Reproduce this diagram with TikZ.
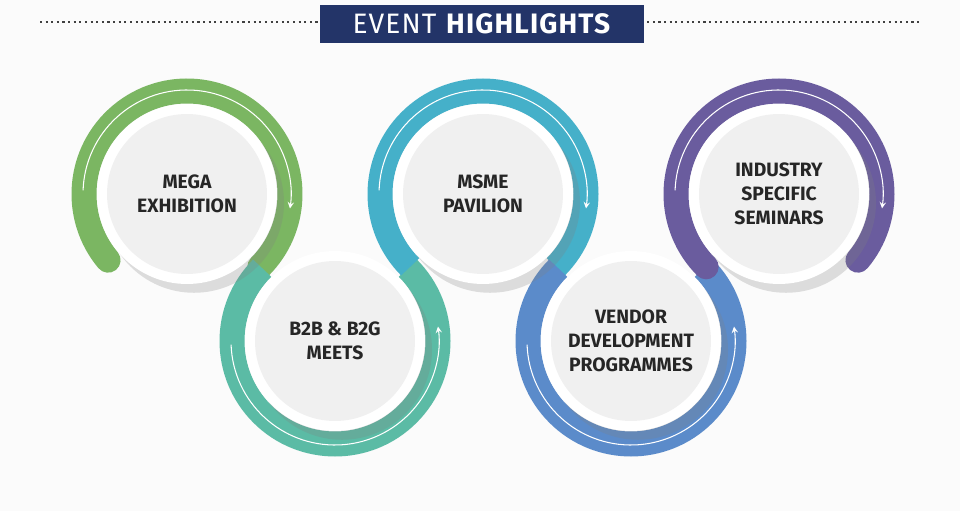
\documentclass[tikz,border=0pt]{standalone}
\usepackage{fontspec}
\setmainfont{Fira Sans}
\usetikzlibrary{positioning,shadows}
\definecolor{ringgreen}{HTML}{7BB662}
\definecolor{ringteal}{HTML}{5BBBA5}
\definecolor{ringcyan}{HTML}{45B0C9}
\definecolor{ringblue}{HTML}{5B8BCA}
\definecolor{ringpurple}{HTML}{6A5C9E}
\definecolor{titlenavy}{HTML}{233468}

\begin{document}
\begin{tikzpicture}[
x=0.02cm, y=0.02cm,
ring/.style = {line width=0.5cm},
guide/.style = {white, line width=0.6pt, ->, >=stealth},
topic-node/.style = {circle, fill=white, minimum size=3.6cm, inner sep=0pt,
  drop shadow={shadow xshift=4pt, shadow yshift=-5pt, opacity=0.25}},
topic-text/.style = {circle, fill=gray!12, minimum size=3.2cm, align=center,
  font=\fontsize{11}{13.5}\selectfont\bfseries, text=black!85}
]

\fill[gray!3] (0,0) rectangle (960,511);

% title
\draw[black!75, line width=1.2pt, dotted] (40,489) -- (920,489);
\node[fill=titlenavy, minimum width=6.5cm, minimum height=0.76cm, text=white,
  font=\fontsize{16}{18}\selectfont] (title) at (482,487)
  {\addfontfeature{LetterSpace=4}{\fontseries{l}\selectfont EVENT} \textbf{HIGHLIGHTS}};

% rings
\draw[ring, ringgreen, line cap=round] (187,317) ++(220:103) arc[start angle=220, end angle=-45, radius=103];
\draw[ring, ringteal] (335,170) ++(135:103) arc[start angle=135, end angle=405, radius=103];
\draw[ring, ringcyan] (483,317) ++(225:103) arc[start angle=225, end angle=-45, radius=103];
\draw[ring, ringblue] (631,170) ++(135:103) arc[start angle=135, end angle=405, radius=103];
\draw[ring, ringpurple, line cap=round] (779,317) ++(225:103) arc[start angle=225, end angle=-40, radius=103];

% arrows
\draw[guide] (187,317) ++(178:104) arc[start angle=178, end angle=-8, radius=104];
\draw[guide] (335,170) ++(182:104) arc[start angle=182, end angle=368, radius=104];
\draw[guide] (483,317) ++(178:104) arc[start angle=178, end angle=-8, radius=104];
\draw[guide] (631,170) ++(182:104) arc[start angle=182, end angle=368, radius=104];
\draw[guide] (779,317) ++(178:104) arc[start angle=178, end angle=-8, radius=104];

% circles
\foreach \name/\cx/\cy in {mega/187/317, btob/335/170, msme/483/317, vendor/631/170, seminar/779/317}
  \node[topic-node] (\name) at (\cx,\cy) {};

\node[topic-text] (mega-t) at (mega) {MEGA\\EXHIBITION};
\node[topic-text] (btob-t) at (btob) {B2B \& B2G\\MEETS};
\node[topic-text] (msme-t) at (msme) {MSME\\PAVILION};
\node[topic-text] (vendor-t) at (vendor) {VENDOR\\DEVELOPMENT\\PROGRAMMES};
\node[topic-text] (seminar-t) at (seminar) {INDUSTRY\\SPECIFIC\\SEMINARS};

\useasboundingbox (0,0) rectangle (960,511);
\end{tikzpicture}
\end{document}
